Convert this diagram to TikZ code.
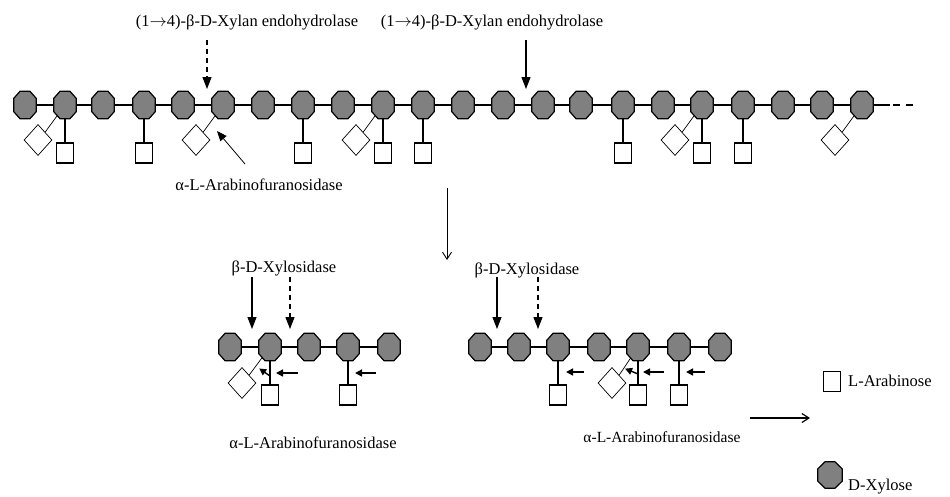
\documentclass[tikz,border=0pt]{standalone}
\usepackage{fontspec}
\setmainfont{Liberation Serif}
\usetikzlibrary{shapes.geometric,arrows.meta,calc}
\definecolor{octgray}{RGB}{128,128,128}
\tikzset{
 xylbox/.style={rectangle, minimum width=22pt, minimum height=27pt, inner sep=0pt},
 octfill/.style={fill=octgray, draw=black, line width=1.2pt, line join=round},
 ara/.style={rectangle, draw, line width=1.2pt, minimum width=17pt, minimum height=20pt, inner sep=0pt, fill=white},
 dia/.style={diamond, draw, line width=0.7pt, minimum width=28pt, minimum height=31pt, inner sep=0pt, fill=white},
 bond/.style={line width=1.3pt},
 thinbond/.style={line width=0.7pt},
 lbl/.style={font=\fontsize{16.5}{16.5}\selectfont, inner sep=0pt},
 enz/.style={line width=1.1pt, -{Triangle[length=12pt,width=9pt]}},
 enzd/.style={enz, dash pattern=on 5pt off 4pt},
 small/.style={line width=1.4pt, -{Triangle[length=7pt,width=7pt]}},
 thinarr/.style={line width=0.8pt, -{Triangle[length=10pt,width=8pt]}},
 openarr/.style={line width=0.9pt, -{Straight Barb[length=7pt,width=9pt]}},
}
\newcommand{\octdraw}[1]{%
 \filldraw[octfill] ([xshift=-5pt]#1.north) -- ([xshift=5pt]#1.north)
   -- ([yshift=-7pt]#1.north east) -- ([yshift=7pt]#1.south east)
   -- ([xshift=5pt]#1.south) -- ([xshift=-5pt]#1.south)
   -- ([yshift=7pt]#1.south west) -- ([yshift=-7pt]#1.north west) -- cycle;}
\newcommand{\arr}{$\rightarrow$}
\begin{document}
\begin{tikzpicture}[x=1pt,y=-1pt]
\useasboundingbox (0,0) rectangle (950,496);
% ---------- top chain ----------
\foreach \x [count=\i from 0] in {25,65,103,144,183,223,263,303,343,383,423,463,503,543,581,623,663,702,743,783,822,862}
  \node[xylbox] (t\i) at (\x,105) {};
\foreach \i [evaluate=\i as \j using int(\i+1)] in {0,...,20}
  \draw[bond] (t\i) -- (t\j);
\coordinate (tend) at (890,105);
\coordinate (tdash) at (913,105);
\draw[bond] (t21) -- (tend);
\draw[bond, dash pattern=on 7pt off 6pt, dash phase=10pt] (tend) -- (tdash);
\foreach \i in {1,3,7,9,10,15,17,18}{
  \path (t\i) ++(0,48) node[ara] (ts\i) {};
  \draw[bond] (t\i) -- (ts\i);
}
\foreach \i in {1,5,9,17,21}{
  \path (t\i) ++(-27,35) node[dia] (td\i) {};
  \draw[thinbond] (t\i.center) -- (td\i.north east);
}
\foreach \i in {0,...,21}{ \octdraw{t\i} }
% top enzyme labels and arrows
\node[lbl] (e1) at (247,22) {(1\arr4)-β-D-Xylan endohydrolase};
\node[lbl] (e2) at (492,22) {(1\arr4)-β-D-Xylan endohydrolase};
\coordinate (a1s) at (207,40); \coordinate (a1e) at (207,89);
\coordinate (a2s) at (526,40); \coordinate (a2e) at (526,89);
\draw[enzd] (a1s) -- (a1e);
\draw[enz] (a2s) -- (a2e);
\node[lbl] (af1) at (259,185) {α-L-Arabinofuranosidase};
\coordinate (af1s) at (245,164); \coordinate (af1e) at (217,131);
\draw[thinarr] (af1s) -- (af1e);
% middle arrow
\coordinate (ms) at (447,188); \coordinate (me) at (447,260);
\draw[openarr] (ms) -- (me);
% ---------- bottom left chain ----------
\foreach \x [count=\i from 0] in {230,270,309,348,389}
  \node[xylbox] (l\i) at (\x,347) {};
\foreach \i [evaluate=\i as \j using int(\i+1)] in {0,...,3}
  \draw[bond] (l\i) -- (l\j);
\foreach \i in {1,3}{
  \path (l\i) ++(0,48) node[ara] (ls\i) {};
  \draw[bond] (l\i) -- (ls\i);
}
\path (l1) ++(-28,36) node[dia] (ld1) {};
\draw[thinbond] (l1.center) -- (ld1.north east);
\foreach \i in {0,...,4}{ \octdraw{l\i} }
\node[lbl] (bx1) at (284,268) {β-D-Xylosidase};
\coordinate (b1s) at (252,277); \coordinate (b1e) at (252,329);
\coordinate (b2s) at (290,277); \coordinate (b2e) at (290,329);
\draw[enz] (b1s) -- (b1e);
\draw[enzd] (b2s) -- (b2e);
\coordinate (s1s) at (298,373); \coordinate (s1e) at (276,373);
\coordinate (s2s) at (376,373); \coordinate (s2e) at (355,373);
\coordinate (s3s) at (270,376); \coordinate (s3e) at (260,369);
\draw[small] (s1s) -- (s1e);
\draw[small] (s2s) -- (s2e);
\draw[small, shorten >=-1pt] (s3s) -- (s3e);
\node[lbl] (af2) at (313,443) {α-L-Arabinofuranosidase};
% ---------- bottom right chain ----------
\foreach \x [count=\i from 0] in {480,519,558,599,638,679,720}
  \node[xylbox] (r\i) at (\x,347) {};
\foreach \i [evaluate=\i as \j using int(\i+1)] in {0,...,5}
  \draw[bond] (r\i) -- (r\j);
\foreach \i in {2,4,5}{
  \path (r\i) ++(0,48) node[ara] (rs\i) {};
  \draw[bond] (r\i) -- (rs\i);
}
\path (r4) ++(-26,36) node[dia] (rd4) {};
\draw[thinbond] (r4.center) -- (rd4.north east);
\foreach \i in {0,...,6}{ \octdraw{r\i} }
\node[lbl] (bx2) at (527,270) {β-D-Xylosidase};
\coordinate (c1s) at (497,277); \coordinate (c1e) at (497,329);
\coordinate (c2s) at (538,277); \coordinate (c2e) at (538,329);
\draw[enz] (c1s) -- (c1e);
\draw[enzd] (c2s) -- (c2e);
\coordinate (u1s) at (584,372); \coordinate (u1e) at (566,372);
\coordinate (u2s) at (664,372); \coordinate (u2e) at (643,372);
\coordinate (u3s) at (705,372); \coordinate (u3e) at (686,372);
\coordinate (u4s) at (638,374); \coordinate (u4e) at (626,369);
\draw[small] (u1s) -- (u1e);
\draw[small] (u2s) -- (u2e);
\draw[small] (u3s) -- (u3e);
\draw[small, shorten >=-1pt] (u4s) -- (u4e);
\node[lbl, font=\fontsize{15.5}{15.5}\selectfont] (af3) at (662,437) {α-L-Arabinofuranosidase};
% right arrow
\coordinate (ras) at (750,418); \coordinate (rae) at (810,418);
\draw[openarr, line width=1.2pt] (ras) -- (rae);
% ---------- legend ----------
\node[ara, line width=0.9pt] (lga) at (832,381) {};
\node[lbl, anchor=west] (lgat) at (848,381) {L-Arabinose};
\node[xylbox, minimum width=24pt, minimum height=26pt] (lgx) at (830,475) {};
\octdraw{lgx}
\node[lbl, anchor=west] (lgxt) at (848,487) {D-Xylose};
\end{tikzpicture}
\end{document}
